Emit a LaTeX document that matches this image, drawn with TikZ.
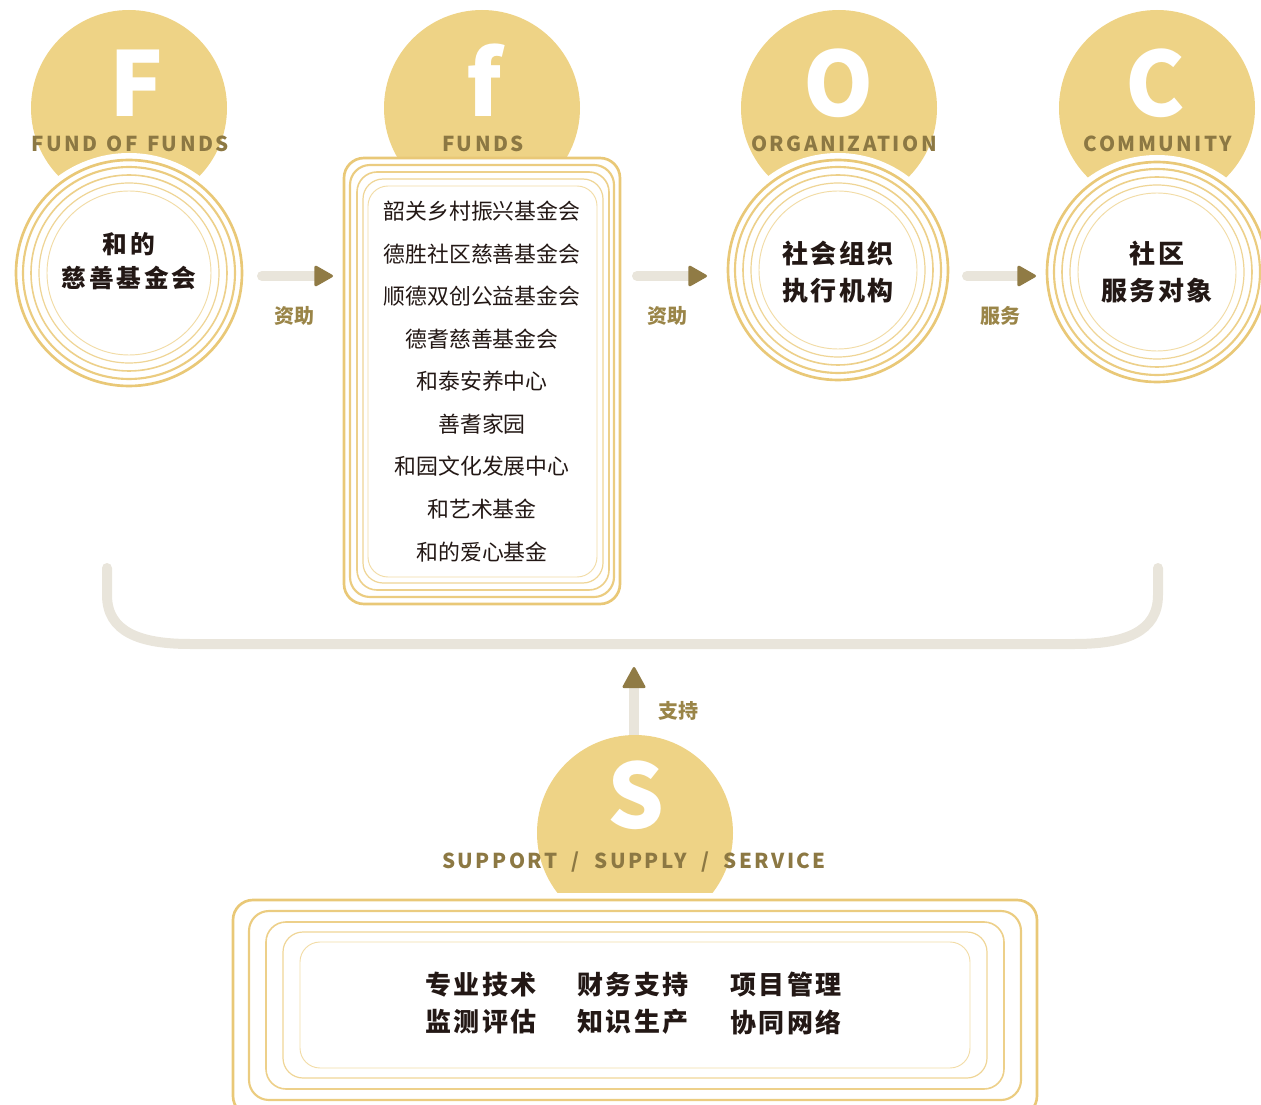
\documentclass[tikz,border=0pt]{standalone}
\usepackage{fontspec}
\usetikzlibrary{arrows.meta}
\newfontfamily\cjk{Noto Sans CJK SC}
\newfontfamily\cjkls[LetterSpace=8]{Noto Sans CJK SC}
\newfontfamily\cjklsw[LetterSpace=12]{Noto Sans CJK SC}
\newfontfamily\lab[LetterSpace=12]{Noto Sans CJK SC}
\definecolor{yel}{HTML}{EED386}
\definecolor{labc}{HTML}{8C7843}
\definecolor{arrlabc}{HTML}{9A8548}
\definecolor{headc}{HTML}{907B45}
\definecolor{shaftc}{HTML}{E9E5DB}
\definecolor{darkt}{HTML}{231815}
\definecolor{ringA}{HTML}{E9C877}
\definecolor{ringB}{HTML}{EBCC80}
\definecolor{ringC}{HTML}{EDD08A}
\definecolor{ringD}{HTML}{EFD596}
\definecolor{ringE}{HTML}{F2DCA6}
\newcommand\ringset[3]{%
  \fill[white] (#1,#2) circle[radius=#3+7];
  \foreach \dd/\ww/\cc in {0/2pt/ringA,7/1.6pt/ringB,15/1.2pt/ringC,23/0.9pt/ringD,31/0.7pt/ringE}
    {\draw[line width=\ww, color=\cc] (#1,#2) circle[radius=#3-\dd];}}
\begin{document}
\begin{tikzpicture}[x=0.75pt,y=-0.75pt,
  bigletter/.style={text=white, font=\cjk\bfseries\fontsize{67}{67}\selectfont, anchor=base, inner sep=0},
  headlab/.style={text=labc, font=\lab\bfseries\fontsize{15.4}{16}\selectfont, anchor=base, inner sep=0},
  circtext/.style={text=darkt, font=\cjkls\bfseries\fontsize{19.5}{20}\selectfont, inner sep=0},
  ftext/.style={text=darkt, font=\cjklsw\bfseries\fontsize{18.5}{20}\selectfont, inner sep=0},
  listtext/.style={text=darkt, font=\cjk\fontsize{16.4}{17}\selectfont, inner sep=0},
  arrlab/.style={text=arrlabc, font=\cjk\bfseries\fontsize{15}{16}\selectfont, inner sep=0},
  shaft/.style={line width=7.5pt, color=shaftc, line cap=round},
  headtip/.style={-{Triangle[length=15pt,width=16.5pt,round,line width=2pt,color=headc,fill=headc]}},
  uptip/.style={-{Triangle[length=17pt,width=18pt,round,line width=2pt,color=headc,fill=headc]}},
]
\useasboundingbox (0,0) rectangle (1261,1105);
% top yellow circles
\foreach \xx in {129,482,839,1157} \fill[yel] (\xx,108) circle[radius=98];
% bracket
\coordinate (brL) at (107,568);
\coordinate (brR) at (1158,568);
\draw[shaft] (brL) -- (107,595) .. controls (107,632) and (140,644) .. (190,644)
   -- (1075,644) .. controls (1125,644) and (1158,632) .. (1158,595) -- (brR);
% support arrow
\coordinate (upS) at (634,742);
\coordinate (upE) at (634,667);
\draw[shaft, uptip] (upS) -- (upE);
% S circle clipped
\begin{scope}
  \clip (500,700) rectangle (780,892);
  \fill[yel] (635,833) circle[radius=98];
\end{scope}
% ring circles
\ringset{129}{273}{113}
\ringset{838}{270}{110}
\ringset{1157}{272}{110}
\coordinate (Fring) at (129,273);
\coordinate (Oring) at (838,270);
\coordinate (Cring) at (1157,272);
% FUNDS box
\fill[white, rounded corners=16pt] (344,158) rectangle (620,604);
\foreach \xa/\ya/\xb/\yb/\ww/\cc in {344/158/620/604/2pt/ringA,350/165/614/597/1.6pt/ringB,357/172/609/590/1.2pt/ringC,363/179/603/583/0.9pt/ringD,368/186/597/577/0.7pt/ringE}
  {\draw[line width=\ww, color=\cc, rounded corners=15pt] (\xa,\ya) rectangle (\xb,\yb);}
\coordinate (fbox) at (482,381);
% bottom box
\foreach \xa/\ya/\xb/\yb/\ww/\cc in {233/900/1037/1116/2pt/ringA,249/911/1021/1100/1.6pt/ringB,266/922/1004/1089/1.2pt/ringC,283/932/987/1078/0.9pt/ringD,300/942/970/1068/0.7pt/ringE}
  {\draw[line width=\ww, color=\cc, rounded corners=15pt] (\xa,\ya) rectangle (\xb,\yb);}
\coordinate (sbox) at (635,1005);
% arrows
\coordinate (a1s) at (262,276); \coordinate (a1e) at (333,276);
\coordinate (a2s) at (637,276); \coordinate (a2e) at (707,276);
\coordinate (a3s) at (967,276); \coordinate (a3e) at (1036,276);
\draw[shaft, headtip] (a1s) -- (a1e);
\draw[shaft, headtip] (a2s) -- (a2e);
\draw[shaft, headtip] (a3s) -- (a3e);
\node[arrlab] (l1) at (294,316) {资助};
\node[arrlab] (l2) at (667,316) {资助};
\node[arrlab] (l3) at (1000,316) {服务};
\node[arrlab] (l4) at (678,711) {支持};
% big letters
\node[bigletter] (Fl) at (136,117) {F};
\node[bigletter] (fl) at (484,117) {f};
\node[bigletter] (Ol) at (839,117) {O};
\node[bigletter] (Cl) at (1155,117) {C};
\node[bigletter] (Sl) at (636,828) {S};
% header labels
\node[headlab] (Fh) at (130,152) {FUND\hspace{7pt}OF\hspace{7pt}FUNDS};
\node[headlab] (fh) at (483,152) {FUNDS};
\node[headlab] (Oh) at (844,152) {ORGANIZATION};
\node[headlab] (Ch) at (1158,152) {COMMUNITY};
\node[headlab] (Sh) at (634,868) {SUPPORT\hspace{11pt}/\hspace{11pt}SUPPLY\hspace{11pt}/\hspace{11pt}SERVICE};
% circle texts
\node[ftext] (F1) at (129,244) {和的};
\node[ftext] (F2) at (129,278) {慈善基金会};
\node[circtext] (O1) at (838,254) {社会组织};
\node[circtext] (O2) at (838,291) {执行机构};
\node[circtext] (C1) at (1157,254) {社区};
\node[circtext] (C2) at (1157,291) {服务对象};
% funds list
\foreach \tt [count=\k from 0] in {韶关乡村振兴基金会,德胜社区慈善基金会,顺德双创公益基金会,德耆慈善基金会,和泰安养中心,善耆家园,和园文化发展中心,和艺术基金,和的爱心基金}
  {\node[listtext] (list\k) at (482,{211+42.6*\k}) {\tt};}
% bottom texts
\node[circtext] (b1) at (481,985) {专业技术};
\node[circtext] (b2) at (633,985) {财务支持};
\node[circtext] (b3) at (786,985) {项目管理};
\node[circtext] (b4) at (481,1022) {监测评估};
\node[circtext] (b5) at (633,1022) {知识生产};
\node[circtext] (b6) at (786,1022) {协同网络};
\end{tikzpicture}
\end{document}
